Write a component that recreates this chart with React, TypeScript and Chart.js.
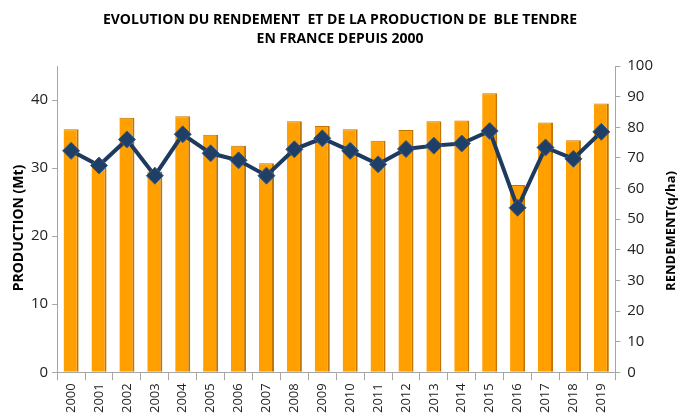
import React, { useEffect, useRef } from "react";
import { Chart, registerables } from "chart.js";

Chart.register(...registerables);

const years = ["2000","2001","2002","2003","2004","2005","2006","2007","2008","2009","2010","2011","2012","2013","2014","2015","2016","2017","2018","2019"];
const production = [35.7, 30.5, 37.4, 29.5, 37.6, 34.9, 33.3, 30.7, 36.9, 36.2, 35.7, 34.0, 35.6, 36.9, 37.0, 41.0, 27.5, 36.7, 34.1, 39.5];
const rendement = [72.3, 67.5, 76.0, 64.2, 77.7, 71.5, 69.2, 64.2, 72.8, 76.4, 72.3, 67.9, 72.9, 74.0, 74.7, 78.8, 53.7, 73.4, 69.7, 78.5];
const titleLines = ["EVOLUTION DU RENDEMENT  ET DE LA PRODUCTION DE  BLE TENDRE", "EN FRANCE DEPUIS 2000"];
const leftTitle = "PRODUCTION (Mt)";
const rightTitle = "RENDEMENT(q/ha)";

const FONT = "'Open Sans', 'Liberation Sans', sans-serif";

const textPlugin = {
  id: "customTexts",
  afterDraw(chart: any) {
    const c = chart.ctx as CanvasRenderingContext2D;
    c.save();
    c.fillStyle = "#000";
    c.textAlign = "center";
    c.textBaseline = "middle";
    c.font = `bold 14px ${FONT}`;
    c.fillText(titleLines[0], 340, 20);
    c.fillText(titleLines[1], 340, 39);
    c.save();
    c.translate(19, 228);
    c.rotate(-Math.PI / 2);
    c.font = `bold 14px ${FONT}`;
    c.fillText(leftTitle, 0, 0);
    c.restore();
    c.save();
    c.translate(671, 231);
    c.rotate(-Math.PI / 2);
    c.font = `bold 13px ${FONT}`;
    c.fillText(rightTitle, 0, 0);
    c.restore();
    c.restore();
  },
};

export default function App() {
  const ref = useRef<HTMLCanvasElement>(null);
  useEffect(() => {
    document.body.style.margin = "0";
    const ctx = ref.current!.getContext("2d")!;
    const chart = new Chart(ctx, {
      type: "bar",
      data: {
        labels: years,
        datasets: [
          {
            type: "line",
            label: "Rendement",
            data: rendement,
            yAxisID: "y2",
            borderColor: "#1F3A5F",
            borderWidth: 4,
            pointStyle: "rectRot",
            pointRadius: 8.5,
            pointBackgroundColor: "#1F3F66",
            pointBorderColor: "#3B5C88",
            pointBorderWidth: 1,
            tension: 0,
          } as any,
          {
            type: "bar",
            label: "Production",
            data: production,
            yAxisID: "y",
            backgroundColor: "#FFA000",
            borderColor: "#C27400",
            borderWidth: { left: 0, right: 2, top: 1, bottom: 0 },
            borderSkipped: false,
            barPercentage: 0.54,
            categoryPercentage: 1,
          } as any,
        ],
      },
      options: {
        responsive: false,
        animation: false,
        layout: { padding: { left: 27, right: 21, top: 66, bottom: 1 } },
        plugins: {
          legend: { display: false },
          tooltip: { enabled: false },
          title: { display: false },
        },
        scales: {
          x: {
            offset: true,
            grid: { offset: true, drawOnChartArea: false, color: "#A6A6A6", tickLength: 8 },
            border: { color: "#A6A6A6" },
            ticks: { minRotation: 90, maxRotation: 90, color: "#222", font: { family: FONT, size: 13 }, padding: 3 },
          },
          y: {
            position: "left",
            min: 0,
            max: 45,
            afterBuildTicks: (axis: any) => {
              axis.ticks = axis.ticks.filter((t: any) => t.value % 10 === 0);
            },
            ticks: { stepSize: 10, color: "#222", font: { family: FONT, size: 15 }, padding: 4 },
            grid: { drawOnChartArea: false, color: "#A6A6A6", tickLength: 5 },
            border: { color: "#A6A6A6" },
          },
          y2: {
            position: "right",
            min: 0,
            max: 100,
            ticks: { stepSize: 10, color: "#222", font: { family: FONT, size: 15 }, padding: 7 },
            grid: { drawOnChartArea: false, color: "#A6A6A6", tickLength: 5 },
            border: { color: "#A6A6A6" },
          },
        },
      } as any,
      plugins: [textPlugin],
    });
    return () => chart.destroy();
  }, []);
  return <canvas ref={ref} width={681} height={417} style={{ display: "block" }} />;
}
